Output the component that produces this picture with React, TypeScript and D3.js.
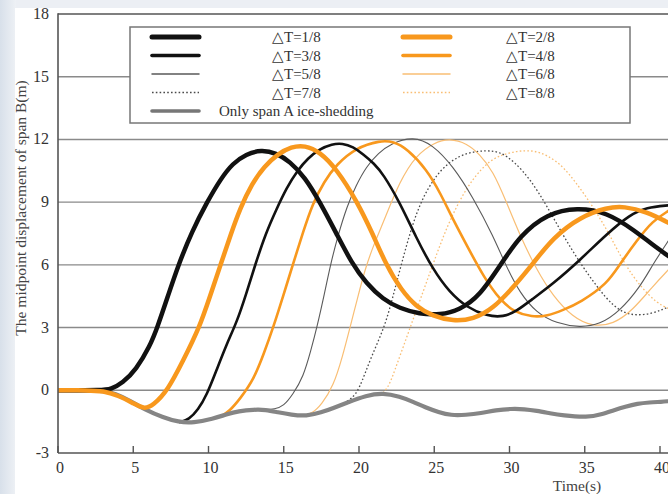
import React from "react";
import * as d3 from "d3";

type P = [number, number];

const xTicks = [0, 5, 10, 15, 20, 25, 30, 35, 40];
const yTicks = [-3, 0, 3, 6, 9, 12, 15, 18];
const gridVals = [0, 3, 6, 9, 12, 15];

const onlyA: P[] = [[0,0],[1,0],[2,0],[3,-0.02],[3.8,-0.15],[4.8,-0.5],[5.8,-0.93],[7,-1.3],[8,-1.52],[9,-1.56],[10.3,-1.36],[11.2,-1.15],[12,-1.0],[13,-0.92],[13.8,-0.93],[14.6,-1.05],[15.5,-1.17],[16.5,-1.24],[17.5,-1.06],[18.3,-0.85],[19.1,-0.62],[20.5,-0.24],[21.6,-0.12],[22.7,-0.3],[23.6,-0.55],[24.4,-0.82],[25.3,-1.05],[26.1,-1.2],[27.1,-1.18],[28.1,-1.1],[29.1,-0.95],[30.1,-0.88],[31,-0.9],[31.8,-0.98],[32.7,-1.1],[33.5,-1.2],[35.2,-1.3],[36.1,-1.15],[36.9,-0.96],[37.7,-0.78],[38.5,-0.64],[39.3,-0.58],[40.1,-0.55],[40.6,-0.52]];

const dt1: P[] = [[0,0],[3,0],[3.5,0.05],[4.3,0.35],[5.2,1.0],[6.1,2.1],[6.6,3.0],[7.3,4.5],[8.0,6.0],[8.9,7.6],[9.9,9.0],[10.8,10.1],[11.6,10.85],[12.5,11.3],[13.5,11.5],[14.5,11.35],[15.4,10.95],[16.4,10.2],[17.4,9.0],[18.5,7.5],[19.5,6.1],[20.5,5.1],[21.6,4.35],[22.7,3.92],[24,3.65],[25.4,3.6],[26.7,3.85],[28,4.5],[29.4,6.0],[30.7,7.4],[32.5,8.45],[34.5,8.75],[36.5,8.5],[38.2,7.7],[40,6.7],[40.6,6.4]];

const dt2: P[] = [[0,0],[2,0],[3,-0.03],[4,-0.25],[5,-0.62],[5.7,-0.9],[6.3,-0.74],[7.3,0.0],[8.3,1.4],[9.4,3.0],[10.1,4.5],[10.8,6.0],[11.5,7.5],[12.1,8.7],[12.9,9.9],[13.7,10.7],[14.6,11.3],[15.5,11.65],[16.4,11.72],[17.4,11.4],[18.5,10.6],[19.9,9.0],[20.9,7.5],[21.8,6.0],[22.8,4.8],[23.8,4.0],[24.9,3.55],[26.25,3.3],[27.6,3.4],[28.9,3.9],[30.3,4.96],[31.6,6.1],[32.9,7.3],[34.7,8.3],[36.5,8.75],[37.6,8.8],[39.1,8.55],[40.6,8.0]];

const dt3: P[] = [[8.1,-1.52],[8.7,-1.4],[9.3,-0.95],[9.9,-0.2],[10.5,0.9],[11.2,2.2],[11.9,3.3],[12.5,4.6],[13.1,6.0],[13.8,7.5],[14.5,8.64],[15.2,9.7],[15.9,10.5],[16.6,11.1],[17.4,11.55],[18.2,11.78],[18.9,11.82],[19.6,11.65],[20.3,11.28],[21.0,10.85],[21.6,10.35],[22.7,9.0],[23.8,7.3],[24.9,5.8],[26.0,4.7],[27.2,3.95],[28.5,3.55],[29.6,3.5],[30.5,3.8],[31.4,4.3],[32.9,5.1],[34.7,6.24],[36.5,7.5],[38.0,8.4],[39.1,8.75],[40.6,8.85]];

const dt4: P[] = [[10.8,-1.25],[11.4,-1.0],[12.1,-0.4],[13,0.5],[13.7,1.8],[14.3,3.0],[15.0,4.6],[15.6,6.0],[16.3,7.6],[16.9,8.9],[17.7,10.0],[18.5,10.8],[19.8,11.6],[21.4,11.95],[22.3,11.9],[23.2,11.55],[24.5,10.56],[25.4,9.44],[26.25,8.16],[27.2,6.88],[28.3,5.4],[29.4,4.3],[30.3,3.75],[31.5,3.5],[32.5,3.55],[33.6,3.85],[34.7,4.2],[36.5,5.1],[37.3,6.0],[38.5,7.2],[39.5,8.1],[40.6,8.6]];

const dt5: P[] = [[13.7,-0.93],[14.4,-0.9],[15.0,-0.75],[15.6,-0.2],[16.3,0.64],[16.8,1.9],[17.2,3.0],[17.7,4.6],[18.1,6.0],[18.6,7.4],[19.2,8.8],[19.8,9.8],[20.5,10.72],[21.3,11.35],[22.1,11.8],[23.6,12.15],[24.9,11.75],[26.25,10.72],[27.6,9.2],[28.9,7.4],[29.8,5.9],[30.7,4.64],[31.8,3.7],[33.1,3.2],[34.7,3.0],[36,3.15],[37.3,3.76],[38.7,4.96],[39.5,6.0],[40.6,7.2]];

const dt6: P[] = [[16.3,-1.2],[16.9,-1.1],[17.5,-0.7],[18.3,0.2],[18.9,1.6],[19.4,3.0],[19.9,4.4],[20.4,5.8],[21.0,7.0],[21.6,8.0],[22.7,10.0],[23.8,11.25],[25,11.85],[26,12.05],[27.2,11.8],[28,11.3],[28.9,10.5],[29.8,9.0],[30.7,7.4],[31.8,5.76],[32.9,4.5],[34.2,3.5],[35.5,3.05],[36.9,3.15],[38.2,3.84],[39.5,4.96],[40.6,5.8]];

const dt7: P[] = [[19.0,-0.62],[19.5,-0.4],[20.0,0.0],[20.8,1.6],[21.7,3.0],[22.3,4.6],[22.8,6.0],[23.8,8.6],[24.9,10.1],[26,10.95],[27.2,11.38],[28.5,11.48],[29.4,11.4],[30.3,10.95],[31.4,10.08],[32.5,8.8],[33.6,7.36],[34.7,6.08],[35.8,4.96],[36.9,4.0],[38,3.55],[39.5,3.65],[40.6,4.0]];

const dt8: P[] = [[21.6,-0.12],[22.0,0.2],[22.5,1.2],[23.4,3.0],[24.3,4.8],[25.2,6.6],[26,8.1],[27.2,9.8],[28.5,10.9],[29.4,11.25],[30.5,11.45],[31.6,11.48],[32.5,11.25],[33.6,10.72],[35.1,9.28],[36.5,7.68],[37.6,6.08],[38.7,4.96],[39.8,4.16],[40.6,3.9]];

const legendLeft = ["△T=1/8", "△T=3/8", "△T=5/8", "△T=7/8", "Only span A ice-shedding"];
const legendRight = ["△T=2/8", "△T=4/8", "△T=6/8", "△T=8/8"];

const ORANGE = "#F8981D";
const LIGHT_OR = "#F9BE74";
const DARK = "#111";
const THIN = "#5a5a5a";
const GREY = "#858585";

type Style = { color: string; width: number; dash?: string };
const styles: Record<string, Style> = {
  dt1: { color: DARK, width: 4.5 },
  dt2: { color: ORANGE, width: 4.5 },
  dt3: { color: DARK, width: 2.6 },
  dt4: { color: ORANGE, width: 2.6 },
  dt5: { color: THIN, width: 1.1 },
  dt6: { color: LIGHT_OR, width: 1.2 },
  dt7: { color: "#4a4a4a", width: 1.3, dash: "1.6,2.2" },
  dt8: { color: LIGHT_OR, width: 1.3, dash: "1.6,2.2" },
  onlyA: { color: GREY, width: 4.2 },
};

export default function App() {
  const x = d3.scaleLinear().domain([0, 40]).range([58, 660]);
  const y = d3.scaleLinear().domain([-3, 18]).range([453, 14]);
  const line = d3
    .line<P>()
    .x((d) => x(d[0]))
    .y((d) => y(d[1]))
    .curve(d3.curveBasis);

  const order: [string, P[]][] = [
    ["dt8", dt8],
    ["dt7", dt7],
    ["dt6", dt6],
    ["dt5", dt5],
    ["dt4", dt4],
    ["dt3", dt3],
    ["onlyA", onlyA],
    ["dt1", dt1],
    ["dt2", dt2],
  ];

  const font = "'Liberation Serif', 'Times New Roman', serif";
  const rightEdge = 668;
  const leftKeys = ["dt1", "dt3", "dt5", "dt7", "onlyA"];
  const rightKeys = ["dt2", "dt4", "dt6", "dt8"];
  const rowY = [37, 55.5, 74, 92.5, 111];

  return (
    <svg
      width={668}
      height={494}
      style={{ position: "fixed", left: 0, top: 0 }}
      fontFamily={font}
    >
      <defs>
        <linearGradient id="bgGrad" x1="0" x2="1" y1="0" y2="0">
          <stop offset="0%" stopColor="#d8e0ea" />
          <stop offset="100%" stopColor="#eef1f5" />
        </linearGradient>
        <clipPath id="plotClip">
          <rect x={x(0)} y={y(18)} width={rightEdge - x(0)} height={y(-3) - y(18)} />
        </clipPath>
      </defs>
      <rect x={0} y={0} width={668} height={494} fill="#eceff4" />
      <rect x={0} y={0} width={16} height={494} fill="url(#bgGrad)" />
      <rect x={15} y={8} width={653} height={486} fill="#ffffff" />

      {gridVals.map((v) => (
        <line key={v} x1={x(0)} x2={rightEdge} y1={y(v)} y2={y(v)} stroke="#8a8a8a" strokeWidth={1.4} />
      ))}
      <line x1={x(0)} x2={rightEdge} y1={y(18)} y2={y(18)} stroke="#555" strokeWidth={1.6} />

      <g clipPath="url(#plotClip)" fill="none" strokeLinecap="round" strokeLinejoin="round">
        {order.map(([k, data]) => (
          <path
            key={k}
            d={line(data) || ""}
            stroke={styles[k].color}
            strokeWidth={styles[k].width}
            strokeDasharray={styles[k].dash}
            strokeLinecap={styles[k].dash ? "butt" : "round"}
          />
        ))}
      </g>

      <line x1={x(0)} x2={x(0)} y1={y(18) - 0.8} y2={y(-3)} stroke="#555" strokeWidth={1.6} />
      <line x1={x(0)} x2={rightEdge} y1={y(-3)} y2={y(-3)} stroke="#555" strokeWidth={1.6} />
      {xTicks.map((t) => (
        <g key={t}>
          <line x1={x(t)} x2={x(t)} y1={y(-3)} y2={y(-3) - 7} stroke="#555" strokeWidth={1.4} />
          <text x={x(t) + 2} y={473} textAnchor="middle" fontSize={16} fill="#333">
            {t}
          </text>
        </g>
      ))}
      {yTicks.map((v) => (
        <text key={v} x={49} y={y(v) + 5} textAnchor="end" fontSize={16} fill="#333">
          {v}
        </text>
      ))}

      <text
        transform="translate(26,208) rotate(-90)"
        textAnchor="middle"
        fontSize={15.5}
        fill="#444"
      >
        The midpoint displacement of span B(m)
      </text>
      <text x={577} y={491} textAnchor="middle" fontSize={15.5} fill="#444">
        Time(s)
      </text>

      <rect x={130} y={27} width={500} height={96} fill="#fff" stroke="#777" strokeWidth={1.5} />
      {leftKeys.map((k, i) => (
        <g key={k}>
          <line
            x1={152}
            x2={199}
            y1={rowY[i]}
            y2={rowY[i]}
            stroke={k === "onlyA" ? "#777" : styles[k].color}
            strokeWidth={k === "dt1" ? 5 : k === "dt3" ? 3.6 : k === "onlyA" ? 3.6 : 1.5}
            strokeDasharray={styles[k].dash}
            strokeLinecap={styles[k].dash ? "butt" : "round"}
          />
          <text
            x={k === "onlyA" ? 219 : 272}
            y={rowY[i] + 5}
            fontSize={15}
            fill="#333"
          >
            {legendLeft[i]}
          </text>
        </g>
      ))}
      {rightKeys.map((k, i) => (
        <g key={k}>
          <line
            x1={403}
            x2={450}
            y1={rowY[i]}
            y2={rowY[i]}
            stroke={styles[k].color}
            strokeWidth={k === "dt2" ? 5 : k === "dt4" ? 3.6 : 1.5}
            strokeDasharray={styles[k].dash}
            strokeLinecap={styles[k].dash ? "butt" : "round"}
          />
          <text x={506} y={rowY[i] + 5} fontSize={15} fill="#333">
            {legendRight[i]}
          </text>
        </g>
      ))}
    </svg>
  );
}
